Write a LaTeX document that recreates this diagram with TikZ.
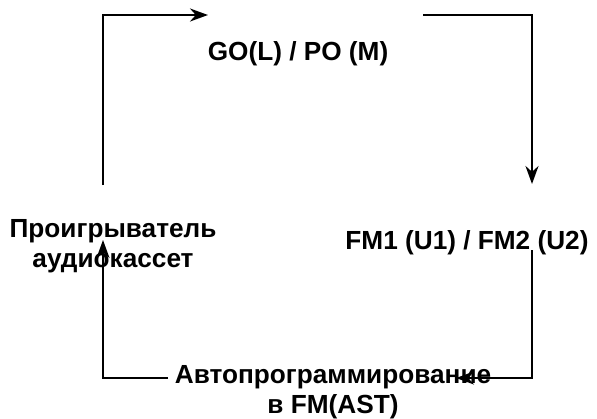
\documentclass[tikz,border=0pt]{standalone}
\usepackage{fontspec}
\setmainfont{Liberation Sans}
\usepackage{tikz}
\usetikzlibrary{arrows.meta}
\tikzset{label/.style={font=\bfseries\fontsize{13.1}{15}\selectfont,align=center,inner sep=0pt},
  flow/.style={line width=1.2pt,-{Stealth[length=9pt,width=6.5pt]}}}

\begin{document}
\begin{tikzpicture}[x=0.5pt,y=-0.5pt]
   \useasboundingbox (0,0) rectangle (597,418);
   \node[label] (go) at (298,54) {GO(L) / PO (M)};
   \node[label] (fm) at (467,243) {FM1 (U1) / FM2 (U2)};
   \node[label] (cas) at (113,246) {Проигрыватель\\аудиокассет};
   \node[label] (ast) at (333,392) {Автопрограммирование\\в FM(AST)};
   \coordinate (a1) at (103,185); \coordinate (a2) at (208,15);
   \coordinate (b1) at (423,15); \coordinate (b2) at (532,184);
   \coordinate (c1) at (532,250); \coordinate (c2) at (456,378);
   \coordinate (d1) at (168,378); \coordinate (d2) at (103,240);
   \draw[flow] (a1) |- (a2);
   \draw[flow] (b1) -| (b2);
   \draw[flow] (c1) |- (c2);
   \draw[flow] (d1) -| (d2);
\end{tikzpicture}
\end{document}
